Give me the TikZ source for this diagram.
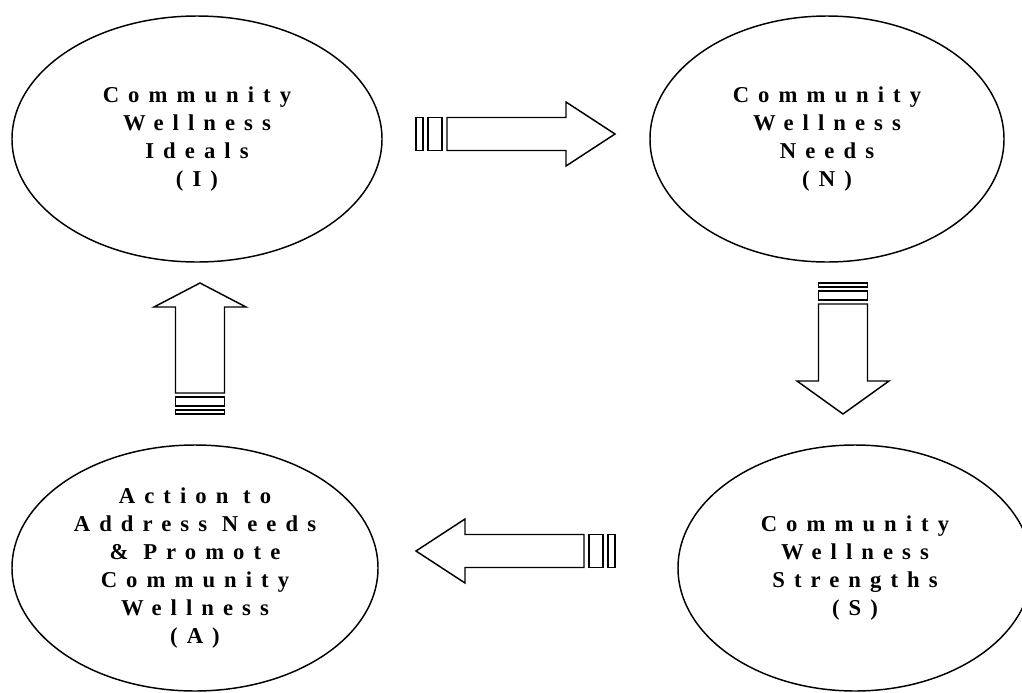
\documentclass[tikz,border=0pt]{standalone}
\usepackage{fontspec}
\newfontfamily\wellfont{Liberation Serif}[LetterSpace=40]
\usetikzlibrary{shapes.geometric}
% horizontal block arrow: tail x, centre y, direction (1 or -1)
\newcommand{\hblock}[3]{%
  \begin{scope}[shift={(#1,#2)},xscale=#3]
    \draw (0,-16.5) rectangle (7,16.5);
    \draw (12,-16.5) rectangle (26,16.5);
    \draw (31,-16.5) -- (150,-16.5) -- (150,-32) -- (199,0)
      -- (150,32) -- (150,16.5) -- (31,16.5) -- cycle;
  \end{scope}}
% vertical block arrow: centre x, tail y, direction, head base
\newcommand{\vblock}[4]{%
  \begin{scope}[shift={(#1,#2)},yscale=#3]
    \draw (-24.5,0) rectangle (24.5,4);
    \draw (-24.5,8) rectangle (24.5,17);
    \draw (-24.5,21) -- (-24.5,#4) -- (-46,#4) -- (0,131)
      -- (46,#4) -- (24.5,#4) -- (24.5,21) -- cycle;
  \end{scope}}

\begin{document}
\begin{tikzpicture}[x=0.75pt,y=-0.75pt,line width=1.1pt,
  wellness/.style={draw,ellipse,inner sep=0pt,minimum height=184.5pt,
    align=center,font=\wellfont\bfseries\fontsize{17}{21}\selectfont}]
  \useasboundingbox (0,0) rectangle (1022,693);

  \node[wellness,minimum width=277.5pt] (ideals)    at (197,139)
    {Community\\Wellness\\Ideals\\(I)};
  \node[wellness,minimum width=265.5pt] (needs)     at (827,139)
    {Community\\Wellness\\Needs\\(N)};
  \node[wellness,minimum width=265.5pt] (strengths) at (855,568)
    {Community\\Wellness\\Strengths\\(S)};
  \node[wellness,minimum width=274.5pt] (action)    at (195,568)
    {Action to\\Address Needs\\\& Promote\\Community\\Wellness\\(A)};

  % I -> N, N -> S, S -> A, A -> I
  \hblock{416}{134}{1}
  \vblock{843}{283}{1}{98}
  \hblock{615}{551}{-1}
  \vblock{200}{414}{-1}{107}
\end{tikzpicture}
\end{document}
